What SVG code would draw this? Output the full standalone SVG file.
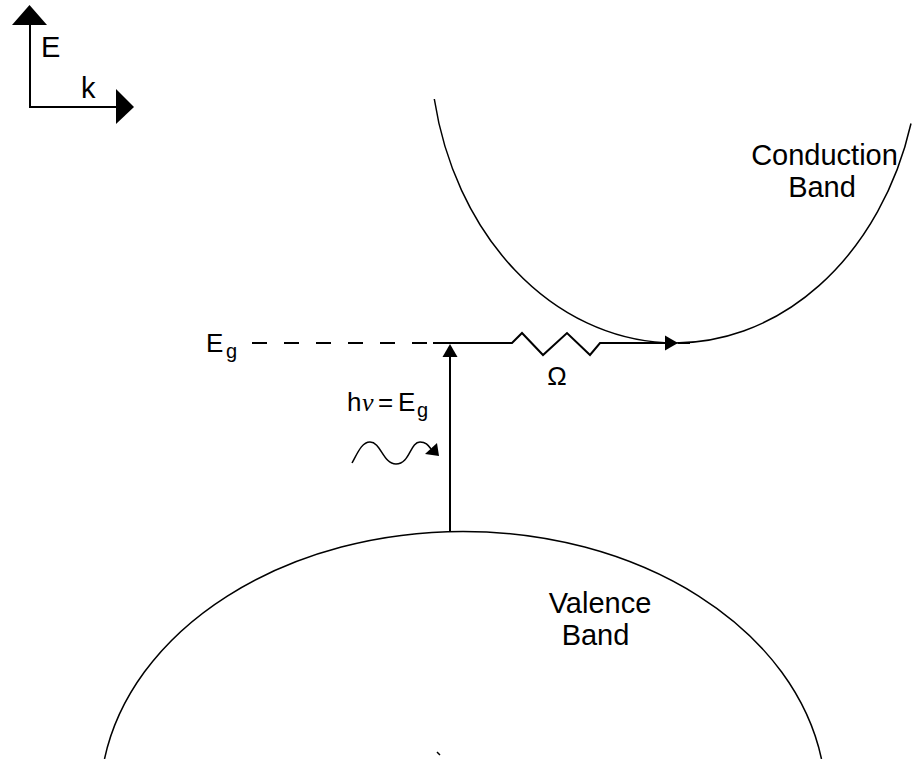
<svg xmlns="http://www.w3.org/2000/svg" width="912" height="759" viewBox="0 0 912 759">
<style>
.t{font-family:"Liberation Sans",Arial,sans-serif;fill:#000}
.curve{fill:none;stroke:#000;stroke-width:1.5}
.line{fill:none;stroke:#000;stroke-width:2}
.head{fill:#000;stroke:none}
</style>
<rect width="912" height="759" fill="#fff"/>
<g id="axes">
<line class="line" x1="30" y1="108" x2="30" y2="22"/>
<polygon class="head" points="12,25 47,25 29.5,5"/>
<line class="line" x1="29" y1="107" x2="118" y2="107"/>
<polygon class="head" points="116,89 116,124 134,107"/>
<text class="t" x="41" y="57" font-size="29">E</text>
<text class="t" x="81" y="98" font-size="29">k</text>
</g>
<g id="conduction-band">
<path class="curve" d="M434.3,99 A245,300 0 0 0 911,123.5"/>
<text class="t" x="824.5" y="165" font-size="29" text-anchor="middle">Conduction</text>
<text class="t" x="822" y="197" font-size="29" text-anchor="middle">Band</text>
</g>
<g id="valence-band">
<path class="curve" d="M104.5,759 A363,270 0 0 1 821.5,759"/>
<text class="t" x="600" y="613" font-size="29" text-anchor="middle">Valence</text>
<text class="t" x="595.5" y="645" font-size="29" text-anchor="middle">Band</text>
<line class="curve" x1="437" y1="752" x2="440" y2="755"/>
</g>
<g id="eg-label">
<text class="t" x="206" y="352" font-size="26">E<tspan x="226" y="358" font-size="20">g</tspan></text>
</g>
<g id="photon">
<text class="t" x="347" y="411" font-size="26">h<tspan x="362" font-family="'Liberation Serif',serif" font-style="italic">ν</tspan><tspan x="378">=</tspan><tspan x="398">E</tspan><tspan x="417" y="417" font-size="20">g</tspan></text>
<path class="curve" d="M352,463 C358,452 362,442 370,442 C381,442 383,464 396,464 C410,464 410,442 420,442 C426,442 428,445 431,449"/>
<polygon class="head" points="437,443 439,456 425,454"/>
</g>
<g id="omega-label">
<text class="t" x="557" y="385" font-size="26" text-anchor="middle">Ω</text>
</g>
<g id="connectors">
<line class="line" x1="252" y1="343" x2="433" y2="343" stroke-dasharray="15,17"/>
<polyline class="line" points="433,343 512,343 522,333 543,355 567,333 590,355 600,343 666,343" stroke-linejoin="miter"/>
<polygon class="head" points="665,335.5 665,350.5 678,343"/>
<line class="line" x1="678" y1="343" x2="690" y2="343"/>
<line class="line" x1="450" y1="531" x2="450" y2="355"/>
<polygon class="head" points="442.5,357 457.5,357 450,344"/>
</g>
</svg>
